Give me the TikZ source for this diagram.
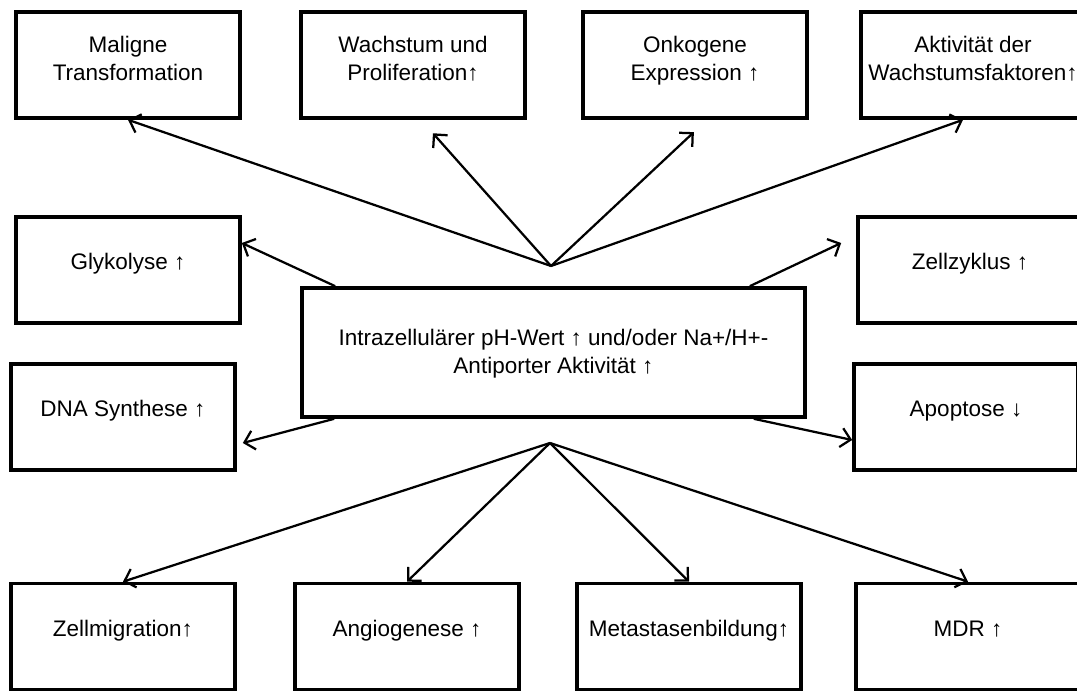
\documentclass[tikz,border=0pt]{standalone}
\usepackage{fontspec}
\setmainfont{Liberation Sans}
\usetikzlibrary{arrows.meta, positioning}

\begin{document}
\begin{tikzpicture}[font=\fontsize{16pt}{20.3pt}\selectfont, >={Straight Barb[length=2.4mm,width=4.8mm]}]
    \tikzstyle{eff} = [rectangle, draw, line width=2.6pt, fill=white, minimum width=5.6cm, minimum height=2.65cm, align=center, text height=0pt, text depth=0pt]
    \tikzstyle{two} = [text height=0.8cm]
    \tikzstyle{link} = [->, line width=1.6pt]

    \useasboundingbox (0,0) rectangle (26.925,-17.275);

    % obere Reihe
    \node[eff, two] (mal) at (3.2,-1.625) {Maligne\\Transformation};
    \node[eff, two] (wach) at (10.325,-1.625) {Wachstum und\\Proliferation↑};
    \node[eff, two] (onk) at (17.375,-1.625) {Onkogene\\Expression ↑};
    \node[eff, two] (akt) at (24.325,-1.625) {Aktivität der\\\makebox[5cm]{Wachstumsfaktoren↑}};

    % Mitte
    \node[eff] (gly) at (3.2,-6.75) {Glykolyse ↑};
    \node[eff] (zell) at (24.25,-6.75) {Zellzyklus ↑};
    \node[eff, minimum width=12.575cm, minimum height=3.225cm, text height=1.075cm] (ctr) at (13.8375,-8.8125)
        {Intrazellulärer pH-Wert ↑ und/oder Na+/H+-\\Antiporter Aktivität ↑};
    \node[eff] (dna) at (3.075,-10.425) {DNA Synthese ↑};
    \node[eff] (apo) at (24.15,-10.425) {Apoptose ↓};

    % untere Reihe
    \node[eff] (mig) at (3.075,-15.9125) {Zellmigration↑};
    \node[eff] (ang) at (10.175,-15.9125) {Angiogenese ↑};
    \node[eff] (met) at (17.225,-15.9125) {Metastasenbildung↑};
    \node[eff] (mdr) at (24.2,-15.9125) {MDR ↑};

    \coordinate (up) at (13.775,-6.65);
    \coordinate (down) at (13.75,-11.075);

    \draw[link] (up) -- (mal.south);
    \draw[link, shorten >=0.45cm] (up) -- ([xshift=0.2cm]wach.south);
    \draw[link, shorten >=0.45cm] (up) -- ([xshift=0.3cm]onk.south);
    \draw[link] (up) -- ([xshift=-0.25cm]akt.south);

    \draw[link] ([xshift=0.875cm]ctr.north west) -- ([yshift=0.675cm]gly.east);
    \draw[link] ([xshift=-1.425cm]ctr.north east) -- ([xshift=-0.375cm, yshift=0.675cm]zell.west);
    \draw[link] ([xshift=0.85cm]ctr.south west) -- ([xshift=0.15cm, yshift=-0.65cm]dna.east);
    \draw[link] ([xshift=-1.325cm]ctr.south east) -- ([yshift=-0.575cm]apo.west);

    \draw[link] (down) -- (mig.north);
    \draw[link] (down) -- (ang.north);
    \draw[link] (down) -- (met.north);
    \draw[link] (down) -- (mdr.north);
\end{tikzpicture}
\end{document}
